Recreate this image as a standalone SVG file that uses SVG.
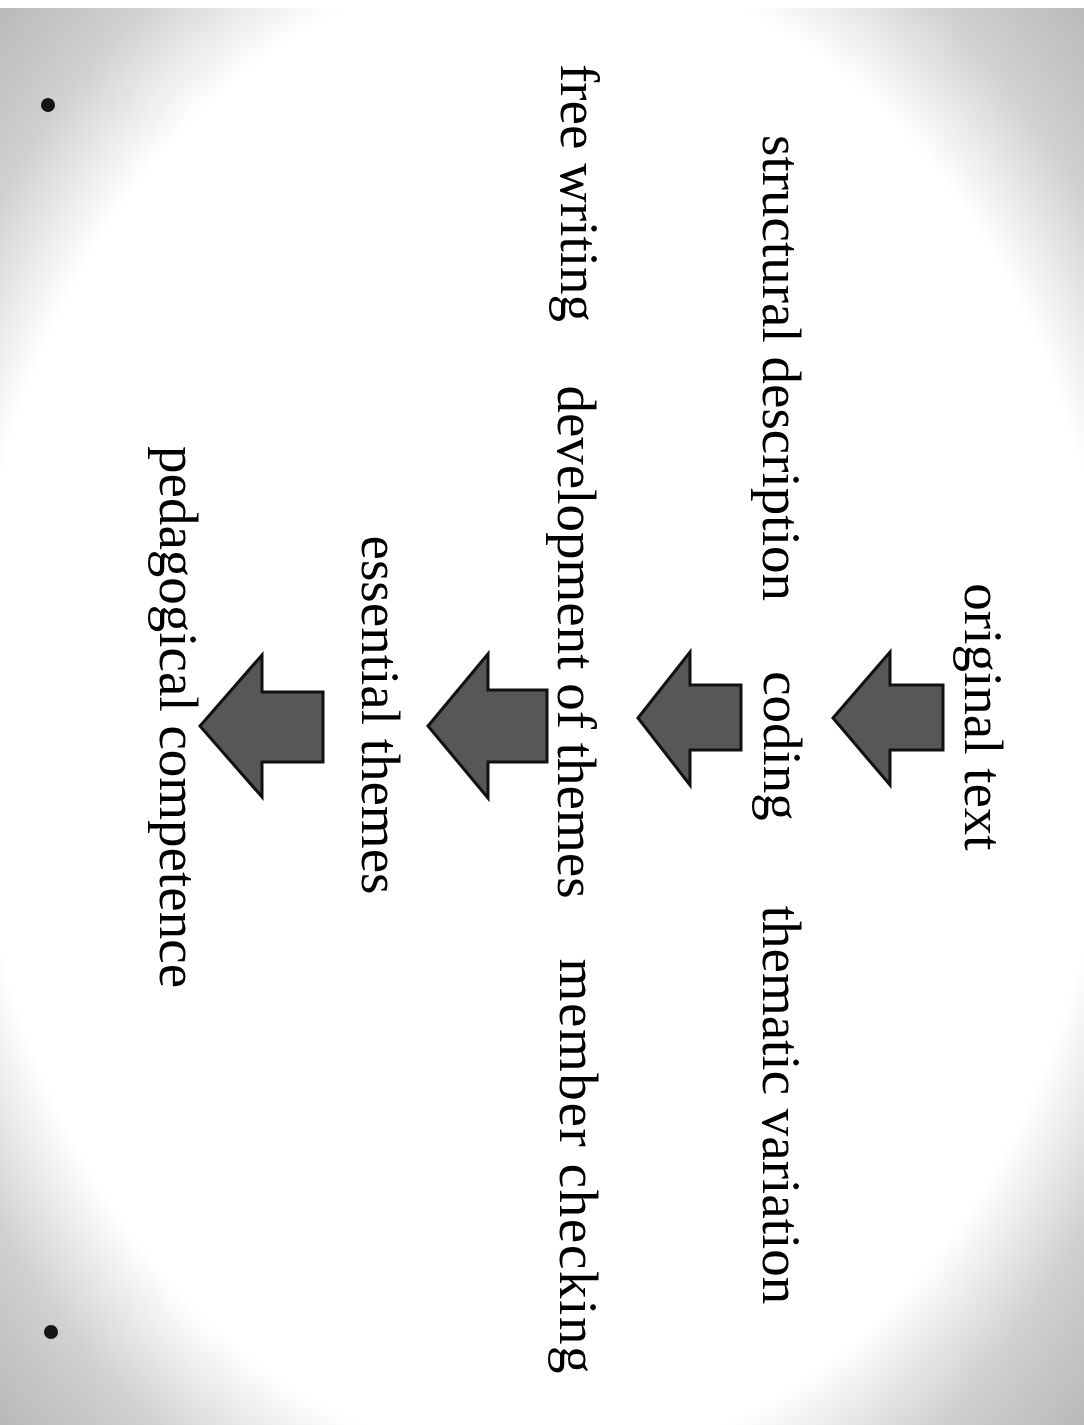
<svg xmlns="http://www.w3.org/2000/svg" width="1084" height="1425" viewBox="0 0 1084 1425">
  <defs>
    <radialGradient id="bg" cx="50%" cy="50%" r="71%" fx="50%" fy="50%">
      <stop offset="0" stop-color="#ffffff"/>
      <stop offset="0.74" stop-color="#ffffff"/>
      <stop offset="0.87" stop-color="#d0d0d0"/>
      <stop offset="1" stop-color="#b8b8b8"/>
    </radialGradient>
  </defs>
  <style>
    .lbl { font-family: "Liberation Serif", "Times New Roman", serif; font-size: 55px; fill: #000; text-anchor: middle; }
    .arrow { fill: #575757; stroke: #111; stroke-width: 3; stroke-linejoin: miter; }
    .dot { fill: #151515; }
  </style>
  <rect x="0" y="0" width="1084" height="1425" fill="url(#bg)"/>
  <rect x="0" y="0" width="1084" height="8" fill="#ffffff"/>
  <circle class="dot" cx="48" cy="105" r="7"/>
  <circle class="dot" cx="51" cy="1332" r="7"/>

  <g id="connectors">
    <polygon class="arrow" points="833,718 890,652 890,685 943,685 943,750 890,750 890,785"/>
    <polygon class="arrow" points="638,718 690,652 690,685 741,685 741,750 690,750 690,785"/>
    <polygon class="arrow" points="428,726 488,654 488,690 547,690 547,762 488,762 488,798"/>
    <polygon class="arrow" points="200,726 262,655 262,692 323,692 323,762 262,762 262,797"/>
  </g>

  <g id="node-original-text"><text class="lbl" transform="translate(965,717) rotate(90)">original text</text></g>
  <g id="node-structural-description"><text class="lbl" transform="translate(763,368) rotate(90)">structural description</text></g>
  <g id="node-coding"><text class="lbl" transform="translate(764,746) rotate(90)">coding</text></g>
  <g id="node-thematic-variation"><text class="lbl" transform="translate(763,1105) rotate(90)">thematic variation</text></g>
  <g id="node-free-writing"><text class="lbl" transform="translate(561,193) rotate(90)">free writing</text></g>
  <g id="node-development-of-themes"><text class="lbl" transform="translate(558,642) rotate(90)">development of themes</text></g>
  <g id="node-member-checking"><text class="lbl" transform="translate(560,1166) rotate(90)" textLength="415" lengthAdjust="spacing">member checking</text></g>
  <g id="node-essential-themes"><text class="lbl" transform="translate(362,715) rotate(90)">essential themes</text></g>
  <g id="node-pedagogical-competence"><text class="lbl" transform="translate(160,717) rotate(90)">pedagogical competence</text></g>
</svg>
